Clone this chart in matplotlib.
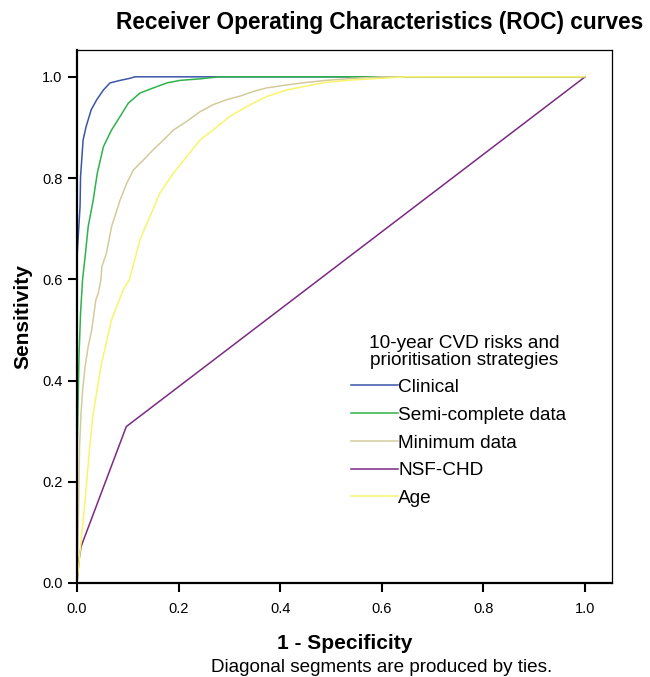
import matplotlib
matplotlib.use("Agg")
import matplotlib.pyplot as plt

plt.rcParams['font.family'] = ['Liberation Sans', 'DejaVu Sans']

# ROC points (1 - specificity, sensitivity)
clinical_x = [0.0, 0.0, 0.0, 0.006, 0.007, 0.012, 0.018, 0.028, 0.039, 0.052, 0.065, 0.085, 0.104, 0.114, 1.0]
clinical_y = [0.0, 0.40, 0.644, 0.744, 0.803, 0.875, 0.902, 0.935, 0.955, 0.974, 0.988, 0.993, 0.997, 1.0, 1.0]

semi_x = [0.0, 0.0, 0.002, 0.004, 0.007, 0.011, 0.016, 0.022, 0.032, 0.040, 0.052, 0.068, 0.085, 0.101, 0.124,
          0.150, 0.177, 0.203, 0.242, 0.28, 1.0]
semi_y = [0.0, 0.25, 0.35, 0.45, 0.534, 0.60, 0.645, 0.704, 0.757, 0.81, 0.862, 0.895, 0.922, 0.948, 0.968,
          0.978, 0.988, 0.993, 0.996, 1.0, 1.0]

minimum_x = [0.0, 0.003, 0.005, 0.008, 0.011, 0.016, 0.022, 0.029, 0.037, 0.042, 0.047, 0.049, 0.058, 0.068,
             0.085, 0.098, 0.111, 0.131, 0.150, 0.170, 0.190, 0.216, 0.242, 0.268, 0.295, 0.321, 0.347, 0.373,
             0.413, 0.452, 0.490, 0.544, 0.60, 1.0]
minimum_y = [0.0, 0.138, 0.269, 0.336, 0.381, 0.428, 0.467, 0.50, 0.559, 0.573, 0.599, 0.625, 0.652, 0.704,
             0.757, 0.79, 0.816, 0.836, 0.856, 0.875, 0.895, 0.912, 0.931, 0.945, 0.955, 0.962, 0.971, 0.978,
             0.984, 0.989, 0.993, 0.997, 1.0, 1.0]

nsf_x = [0.0, 0.004, 0.008, 0.097, 1.0]
nsf_y = [0.0, 0.045, 0.072, 0.309, 1.0]

age_x = [0.0, 0.007, 0.016, 0.024, 0.031, 0.047, 0.068, 0.091, 0.103, 0.124, 0.163, 0.190, 0.242, 0.268, 0.301,
         0.341, 0.373, 0.413, 0.452, 0.490, 0.544, 0.65, 1.0]
age_y = [0.0, 0.072, 0.164, 0.257, 0.329, 0.428, 0.52, 0.579, 0.599, 0.678, 0.77, 0.81, 0.875, 0.895, 0.922,
         0.945, 0.961, 0.974, 0.982, 0.989, 0.994, 1.0, 1.0]

labels = ['Clinical', 'Semi-complete data', 'Minimum data', 'NSF-CHD', 'Age']
colors = ['#3b55a8', '#2eb34a', '#d3cb9c', '#7b2a82', '#f8f46c']

fig = plt.figure(figsize=(6.5, 6.77), dpi=100)
ax = fig.add_axes([77 / 650, 94 / 677, 535 / 650, 533 / 677])

series = [(clinical_x, clinical_y), (semi_x, semi_y), (minimum_x, minimum_y), (nsf_x, nsf_y), (age_x, age_y)]
for (xs, ys), lab, c in zip(series, labels, colors):
    ax.plot(xs, ys, color=c, lw=1.1, label=lab)

ax.set_xlim(0, 1.053)
ax.set_ylim(0, 1.053)
ticks = [0.0, 0.2, 0.4, 0.6, 0.8, 1.0]
ax.set_xticks(ticks)
ax.set_yticks(ticks)
ax.set_xticklabels(['%.1f' % t for t in ticks])
ax.set_yticklabels(['%.1f' % t for t in ticks])
ax.tick_params(direction='out', length=6.5, width=1.5, labelsize=10.5)
ax.tick_params(axis='x', pad=7)
ax.tick_params(axis='y', pad=4)
for s in ['left', 'bottom']:
    ax.spines[s].set_linewidth(1.6)
for s in ['top', 'right']:
    ax.spines[s].set_linewidth(0.9)

ax.set_xlabel('1 - Specificity', fontsize=15, fontweight='bold', labelpad=13)
ax.set_ylabel('Sensitivity', fontsize=15, fontweight='bold', labelpad=7)
fig.text(380 / 650, 1 - 22 / 677, 'Receiver Operating Characteristics (ROC) curves',
         ha='center', va='center', fontsize=16.3, fontweight='bold')
fig.text(382 / 650, 1 - 667 / 677, 'Diagonal segments are produced by ties.',
         ha='center', va='center', fontsize=13.6)

# legend title drawn separately so both lines are centred
fig.text(464 / 650, 1 - 352 / 677, '10-year CVD risks and\nprioritisation strategies',
         ha='center', va='center', multialignment='center', fontsize=13.7, linespacing=1.05)
leg = ax.legend(loc='upper left',
                bbox_to_anchor=(343 / 650, 1 - 371 / 677), bbox_transform=fig.transFigure,
                frameon=False, fontsize=13.7, handlelength=2.5,
                handletextpad=0.0, labelspacing=0.55, borderaxespad=0)

fig.savefig('out.png', dpi=100)
